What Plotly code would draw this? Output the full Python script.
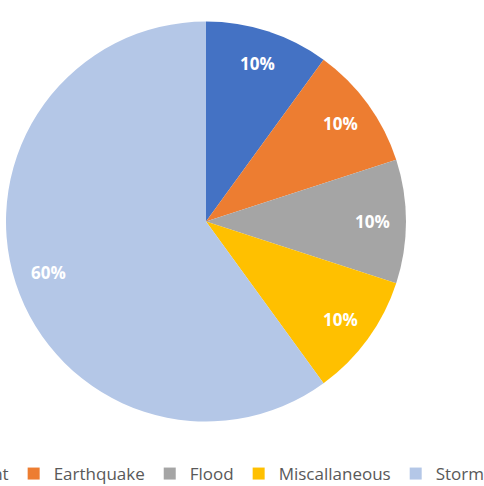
import math
import plotly.graph_objects as go

categories = ["Drought", "Earthquake", "Flood", "Miscallaneous", "Storm"]
values = [10, 10, 10, 10, 60]
colors = ["#4472C4", "#ED7D31", "#A5A5A5", "#FFC000", "#B4C7E7"]

W, H = 600, 486
SHIFT = 90  # the reference is cropped on the left
CX, CY, R = 296, 221.5, 200  # pie centre (px from top-left of figure) and radius
LABEL_FRAC = 0.83

fig = go.Figure(
    go.Pie(
        labels=categories,
        values=values,
        sort=False,
        direction="clockwise",
        rotation=0,
        marker=dict(colors=colors, line=dict(width=0)),
        textinfo="none",
        domain=dict(x=[(CX - R) / W, (CX + R) / W], y=[1 - (CY + R) / H, 1 - (CY - R) / H]),
        hoverinfo="label+percent",
    )
)

# data labels (percent of total) placed along each slice's mid-angle
total = sum(values)
cum = 0
for v in values:
    theta = 2 * math.pi * (cum + v / 2) / total
    cum += v
    px = CX + LABEL_FRAC * R * math.sin(theta)
    py = CY - LABEL_FRAC * R * math.cos(theta)
    fig.add_annotation(
        x=px / W, y=1 - py / H, xref="paper", yref="paper",
        text=f"{round(100 * v / total)}%", showarrow=False,
        font=dict(family="Open Sans", size=17, color="white", weight="bold"),
        xanchor="center", yanchor="middle",
    )

fig.update_layout(
    width=W,
    height=H,
    margin=dict(l=0, r=0, t=0, b=0, autoexpand=False),
    paper_bgcolor="white",
    plot_bgcolor="white",
    showlegend=True,
    legend=dict(
        orientation="h",
        x=286 / W,
        xanchor="center",
        y=(H - 474) / H,
        yanchor="middle",
        font=dict(family="Open Sans", size=17, color="#595959"),
        itemwidth=30,
        traceorder="normal",
    ),
)

post = (
    "document.body.style.margin='0';"
    "document.body.style.overflow='hidden';"
    "var d=document.getElementById('{plot_id}');"
    "d.style.marginLeft='-%dpx';" % SHIFT
)

fig.write_html("out.html", post_script=post)
